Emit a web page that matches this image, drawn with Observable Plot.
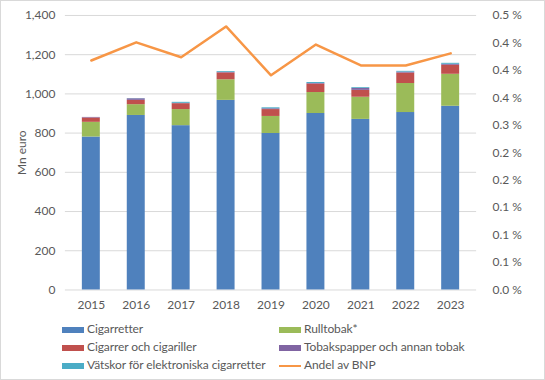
<!DOCTYPE html>
<html><head><meta charset="utf-8">
<script src="https://cdn.jsdelivr.net/npm/d3@7"></script>
<script src="https://cdn.jsdelivr.net/npm/@observablehq/plot@0.6"></script>
<style>
body{margin:0;background:#fff;font-family:Lato,sans-serif;}
#frame{position:relative;width:545px;height:380px;box-sizing:border-box;border:1px solid #d9d9d9;overflow:hidden;}
#chart{position:absolute;left:-1px;top:-1px;}
.lg{position:absolute;font-size:12px;color:#595959;white-space:nowrap;line-height:14px;letter-spacing:-0.1px;}
.sw{position:absolute;width:22px;height:6px;}
</style></head>
<body><div id="frame"><div id="chart"></div><div id="legend"></div></div>
<script>
const years = ["2015","2016","2017","2018","2019","2020","2021","2022","2023"];
const seriesNames = ["Cigarretter","Rulltobak*","Cigarrer och cigariller","Tobakspapper och annan tobak","Vätskor för elektroniska cigarretter"];
const seriesColors = ["#4f81bd","#9bbb59","#c0504d","#8064a2","#4bacc6"];
const cigarretter = [780, 890, 838, 967, 798, 900, 870, 905, 937];
const rulltobak   = [75, 55, 82, 105, 87, 107, 113, 148, 163];
const cigarrer    = [22, 22, 30, 35, 35, 43, 35, 53, 46];
const tobakspapper= [3, 8, 2, 3, 4, 3, 10, 5, 5];
const vatskor     = [0, 1, 5, 4, 5, 5, 4, 4, 5];
const lineName = "Andel av BNP";
const lineColor = "#f79646";
const andelBNP = [0.418, 0.451, 0.424, 0.480, 0.391, 0.447, 0.409, 0.409, 0.431];
const leftTicks = [0,200,400,600,800,1000,1200,1400];
const rightTicks = [0,0.05,0.10,0.15,0.20,0.25,0.30,0.35,0.40,0.45,0.50];
const rightTickLabels = ["0.0 %","0.1 %","0.1 %","0.1 %","0.2 %","0.2 %","0.3 %","0.4 %","0.4 %","0.4 %","0.5 %"];
const yLabel = "Mn euro";

const seriesValues = [cigarretter, rulltobak, cigarrer, tobakspapper, vatskor];
const barData = [];
years.forEach((yr,i)=>seriesValues.forEach((vals,s)=>barData.push({year:yr, series:seriesNames[s], value:vals[i]})));
const ratio = 1400/0.5;
const lineData = years.map((yr,i)=>({year:yr, v:andelBNP[i]*ratio}));

const plot = Plot.plot({
  width:545, height:318,
  marginLeft:65, marginRight:68, marginTop:15, marginBottom:28,
  style:{fontFamily:"Lato, sans-serif", fontSize:"12px", color:"#595959", background:"transparent"},
  x:{type:"band", domain:years, paddingInner:0.61, paddingOuter:0.305, label:null},
  y:{domain:[0,1400], label:null},
  color:{domain:seriesNames, range:seriesColors},
  marks:[
    Plot.ruleY(leftTicks, {stroke:"#d9d9d9", strokeWidth:1}),
    Plot.barY(barData, {x:"year", y:"value", fill:"series", order:seriesNames}),
    Plot.line(lineData, {x:"year", y:"v", stroke:lineColor, strokeWidth:2.5, curve:"linear"}),
    Plot.axisX({tickSize:0, tickPadding:11, label:null, fill:"#595959"}),
    Plot.axisY({ticks:leftTicks, tickSize:0, tickPadding:10, tickFormat:d3.format(",d"), label:yLabel, labelAnchor:"center", labelArrow:"none", labelOffset:48, fill:"#595959"}),
    Plot.axisY({anchor:"right", ticks:rightTicks.map(t=>t*ratio), tickSize:0, tickPadding:16, tickFormat:(d,i)=>rightTickLabels[i], label:null, fill:"#595959"})
  ]
});
document.getElementById("chart").appendChild(plot);

const legendItems = seriesNames.map((n,i)=>({name:n,color:seriesColors[i],type:"bar"})).concat([{name:lineName,color:lineColor,type:"line"}]);
const lg = document.getElementById("legend");
const rowsY=[329,347,365], colSw=[61,278], colTx=[86,303];
legendItems.forEach((it,i)=>{
  const r=Math.floor(i/2), c=i%2;
  const sw=document.createElement("div"); sw.className="sw";
  sw.style.left=colSw[c]+"px";
  if(it.type==="bar"){sw.style.top=(rowsY[r]-3)+"px"; sw.style.background=it.color;}
  else {sw.style.top=(rowsY[r]-1.5)+"px"; sw.style.height="2.5px"; sw.style.background=it.color;}
  lg.appendChild(sw);
  const t=document.createElement("div"); t.className="lg"; t.textContent=it.name;
  t.style.left=colTx[c]+"px"; t.style.top=(rowsY[r]-8)+"px";
  lg.appendChild(t);
});
</script></body></html>
